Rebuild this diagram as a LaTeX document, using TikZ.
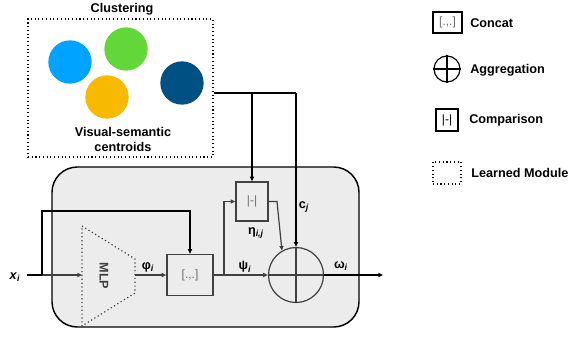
\documentclass[tikz,border=0pt]{standalone}
\usepackage{fontspec}
\setmainfont{Liberation Sans}
\usetikzlibrary{arrows.meta}

\definecolor{cblue}{RGB}{0,163,255}
\definecolor{cgreen}{RGB}{99,214,58}
\definecolor{corange}{RGB}{248,186,0}
\definecolor{cnavy}{RGB}{0,80,131}
\definecolor{panel}{RGB}{236,236,236}
\definecolor{wire}{RGB}{64,64,64}
\definecolor{symtext}{RGB}{110,110,110}

\begin{document}
\begin{tikzpicture}[x=0.75pt,y=-0.75pt,
  every node/.style={font=\fontsize{9.5}{11}\selectfont\bfseries, inner sep=0pt},
  dotbox/.style={draw, dotted, line width=0.8pt},
  centroid/.style={circle, minimum size=32.5pt},
  opbox/.style={draw=wire, line width=0.9pt, fill=panel, rectangle},
  link/.style={draw=wire, line width=0.9pt},
  outer/.style={draw=black, line width=0.9pt},
  arr/.style={-{Triangle[length=3.5pt,width=3pt]}},
  boxtext/.style={font=\fontsize{9}{10}\selectfont, text=symtext},
  legtext/.style={anchor=west},
]
\useasboundingbox (0,0) rectangle (568,350);

% ---- clustering module ----
\node[dotbox, minimum width=138.75pt, minimum height=103.5pt] (cluster) at (120.5,88) {};
\node (clustertitle) at (122,9) {Clustering};
\node[centroid, fill=cblue]   (c1) at (70,62) {};
\node[centroid, fill=cgreen]  (c2) at (126,49) {};
\node[centroid, fill=corange] (c3) at (107,97) {};
\node[centroid, fill=cnavy]   (c4) at (182,83) {};
\node[align=center, font=\fontsize{9.5}{11.5}\selectfont\bfseries] (centroids) at (123,139.5) {Visual-semantic\\centroids};

% ---- main panel ----
\node[draw, fill=panel, line width=1.1pt, rounded corners=19pt,
      minimum width=230.25pt, minimum height=120pt] (panel) at (205.5,247) {};

% MLP (learned, dotted trapezoid)
\coordinate (mlpTL) at (82,226);
\coordinate (mlpTR) at (135,259);
\coordinate (mlpBR) at (135,293);
\coordinate (mlpBL) at (82,326);
\draw[wire, dotted, line width=0.9pt] (mlpTL) -- (mlpTR) -- (mlpBR) -- (mlpBL) -- cycle;
\node[rotate=-90, text=wire] (mlp) at (104,276) {MLP};
\coordinate (mlpin) at (82,275);
\coordinate (mlpout) at (135,275);

% operators
\node[opbox, minimum width=34.5pt, minimum height=30.75pt] (concat) at (190,275) {};
\node[boxtext] (concattext) at (190,275) {[.,.]};
\node[opbox, minimum width=24pt, minimum height=29.25pt] (cmp) at (252,201.5) {};
\node[boxtext] (cmptext) at (252,201.5) {|-|};
\node[circle, draw=wire, line width=0.9pt, minimum size=41.25pt] (agg) at (296,275) {};
\draw[link] (agg.north) -- (agg.south) (agg.west) -- (agg.east);

% input
\node (xi) at (15,277) {\textit{x}\textsubscript{\textit{i}}};
\coordinate (xstart) at (27,275);
\coordinate (xsplit) at (42,275);
\coordinate (xup) at (42,211);
\draw[outer] (xstart) -- (xsplit);
\draw[link, arr] (xsplit) -- (mlpin);
\draw[outer, arr] (xsplit) -- (xup) -- (concat.north |- xup) -- (concat.north);

% MLP to concat
\draw[link, arr] (mlpout) -- (concat.west);
\node (phi) at (148,267) {φ\textsubscript{\textit{i}}};

% concat to aggregation, with branch to comparison
\coordinate (psisplit) at (224,275);
\draw[link, arr] (concat.east) -- (agg.west);
\draw[link, arr] (psisplit) -- (psisplit |- cmp.west) -- (cmp.west);
\node (psi) at (245,267) {ψ\textsubscript{\textit{i}}};

% comparison to aggregation
\coordinate (etaturn) at (277,201.5);
\draw[link, arr] (cmp.east) -- (etaturn) -- (agg.120);
\node (eta) at (256,233) {η\textsubscript{\textit{i,j}}};

% centroid feed
\coordinate (cout) at (cluster.east |- 0,93);
\coordinate (cjturn) at (agg.north |- cout);
\draw[outer] (cout) -- (cjturn);
\draw[outer, arr] (cjturn) -- (agg.north);
\draw[outer, arr] (cmp.north |- cout) -- (cmp.north);
\node (cj) at (304,207) {c\textsubscript{\textit{j}}};

% output
\coordinate (outend) at (383,275);
\draw[outer, arr] (agg.east) -- (outend);
\node (omega) at (341,266) {ω\textsubscript{\textit{i}}};

% ---- legend ----
\node[draw, line width=0.9pt, minimum width=21.75pt, minimum height=15.75pt] (lgconcat) at (447.5,22.5) {};
\node[boxtext, font=\fontsize{9}{10}\selectfont] (lgconcattext) at (447.5,22.5) {[.,.]};
\node[legtext] (lgconcatlabel) at (470,23) {Concat};

\node[circle, draw, line width=0.9pt, minimum size=19.5pt] (lgagg) at (447,69) {};
\draw[line width=0.9pt] (lgagg.north) -- (lgagg.south) (lgagg.west) -- (lgagg.east);
\node[legtext] (lgagglabel) at (470,70) {Aggregation};

\node[draw, line width=0.9pt, minimum width=16.5pt, minimum height=16.5pt] (lgcmp) at (447,120) {};
\node[font=\fontsize{9}{10}\selectfont] (lgcmptext) at (447,120) {|-|};
\node[legtext] (lgcmplabel) at (469,120) {Comparison};

\node[dotbox, minimum width=21pt, minimum height=16.5pt] (lglearn) at (447,173) {};
\node[legtext] (lglearnlabel) at (471,173) {Learned Module};
\end{tikzpicture}
\end{document}
